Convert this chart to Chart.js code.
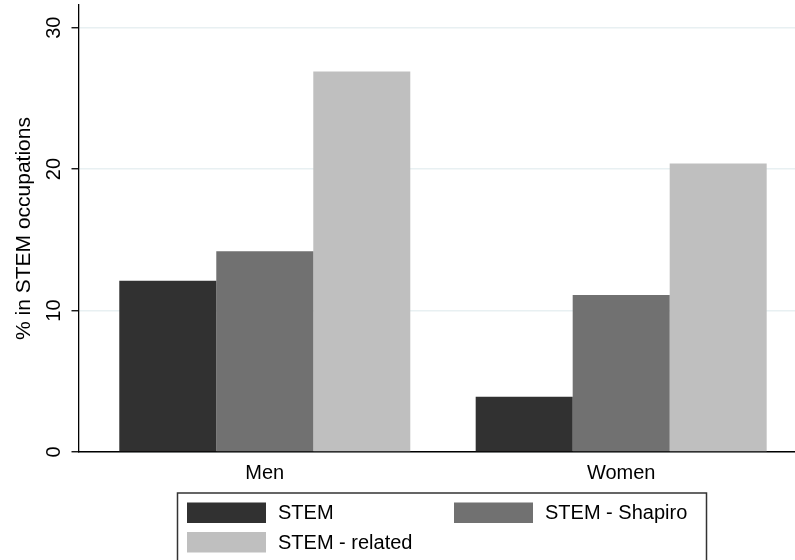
<!DOCTYPE html>
<html>
<head>
<meta charset="utf-8">
<script src="https://cdn.jsdelivr.net/npm/chart.js@4/dist/chart.umd.min.js"></script>
<style>
  html, body { margin: 0; padding: 0; background: #ffffff; }
  #wrap { width: 795px; height: 560px; position: relative; }
</style>
</head>
<body>
<div id="wrap"><canvas id="c" width="795" height="560"></canvas></div>
<script>
// ---- data ----
const categories = ['Men', 'Women'];
const categoryPositions = [1, 2];
const seriesNames = ['STEM', 'STEM - Shapiro', 'STEM - related'];
const stemValues = [12.1, 3.9];
const shapiroValues = [14.2, 11.1];
const relatedValues = [26.9, 20.4];
const yTickValues = [0, 10, 20, 30];
const yAxisTitle = '% in STEM occupations';

// ---- styles ----
const seriesColors = ['#313131', '#717171', '#bfbfbf'];
const FONT = "'Liberation Sans', Arial, Helvetica, sans-serif";

function toPoints(vals) {
  return vals.map((v, i) => ({ x: categoryPositions[i], y: v }));
}

const allSeries = [stemValues, shapiroValues, relatedValues];

const legendPlugin = {
  id: 'boxLegend',
  afterDraw(chart) {
    const ctx = chart.ctx;
    ctx.save();
    ctx.strokeStyle = '#333333';
    ctx.lineWidth = 1.5;
    ctx.strokeRect(177.5, 493, 529, 80);
    const slots = [
      { sx: 187, sy: 502.5 },
      { sx: 454, sy: 502.5 },
      { sx: 187, sy: 532 }
    ];
    ctx.font = '20px ' + FONT;
    ctx.textBaseline = 'middle';
    ctx.textAlign = 'left';
    chart.data.datasets.forEach((ds, i) => {
      const s = slots[i];
      ctx.fillStyle = ds.backgroundColor;
      ctx.fillRect(s.sx, s.sy, 79, 20.5);
      ctx.fillStyle = '#000000';
      ctx.fillText(ds.label, s.sx + 91, s.sy + 11);
    });
    ctx.restore();
  }
};

new Chart(document.getElementById('c'), {
  type: 'bar',
  data: {
    datasets: seriesNames.map((name, i) => ({
      label: name,
      data: toPoints(allSeries[i]),
      backgroundColor: seriesColors[i],
      borderWidth: 0,
      categoryPercentage: 0.8165,
      barPercentage: 1.0
    }))
  },
  options: {
    responsive: false,
    animation: false,
    devicePixelRatio: 1,
    layout: { padding: { top: 5, right: 0, left: 0, bottom: 0 } },
    plugins: {
      legend: { display: false },
      tooltip: { enabled: false },
      title: { display: false }
    },
    scales: {
      x: {
        type: 'linear',
        min: 0.4773,
        max: 2.4877,
        offset: false,
        grid: { display: false, drawTicks: false },
        border: { display: true, color: '#000000', width: 1.5 },
        afterBuildTicks: (scale) => { scale.ticks = categoryPositions.map(v => ({ value: v })); },
        afterFit: (scale) => {
          scale.height = 108;
          scale.paddingLeft = 0; scale.paddingRight = 0;
        },
        ticks: {
          padding: 9,
          color: '#000000',
          font: { family: FONT, size: 20 },
          maxRotation: 0,
          minRotation: 0,
          autoSkip: false,
          callback: (v) => {
            const idx = categoryPositions.indexOf(v);
            return idx >= 0 ? categories[idx] : '';
          }
        }
      },
      y: {
        min: 0,
        max: 31.6,
        afterBuildTicks: (scale) => { scale.ticks = yTickValues.map(v => ({ value: v })); },
        afterFit: (scale) => {
          scale.width = 78.5;
          scale.paddingTop = 0; scale.paddingBottom = 0;
        },
        grid: {
          color: '#e8f0f2',
          lineWidth: 1.5,
          tickColor: '#000000',
          tickLength: 7,
          tickWidth: 1.3,
          drawTicks: true
        },
        border: { display: true, color: '#000000', width: 1.3 },
        ticks: {
          padding: 6,
          color: '#000000',
          font: { family: FONT, size: 20 },
          minRotation: 90,
          maxRotation: 90,
          crossAlign: 'center',
          autoSkip: false
        },
        title: {
          display: true,
          text: yAxisTitle,
          color: '#000000',
          font: { family: FONT, size: 21 },
          padding: { top: 12, bottom: 0 }
        }
      }
    }
  },
  plugins: [legendPlugin]
});
</script>
</body>
</html>
